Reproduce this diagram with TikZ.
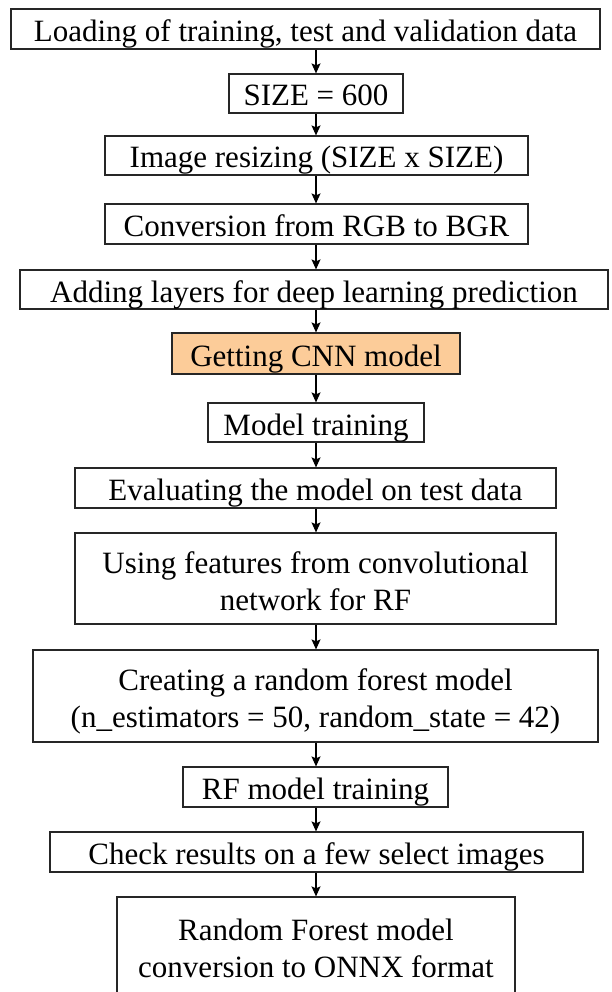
\documentclass[tikz,border=0pt]{standalone}
\usepackage{fontspec}
\setmainfont{Liberation Serif}
\usetikzlibrary{arrows.meta}
\definecolor{cnnfill}{RGB}{252,204,153}
\tikzset{
  stepbox/.style={draw=black!85, line width=1.2pt, inner sep=0pt,
    font=\fontsize{31}{37}\selectfont},
  flow/.style={-{Stealth[length=10pt,width=9pt,inset=2pt]}, line width=1.1pt, black},
}
% text of a box, set with its baseline at a fixed height in the box
\newcommand\oneline[1]{\raisebox{-12.5pt}[0pt][0pt]{#1}}
\newcommand\twolines[2]{\raisebox{5.5pt}[0pt][0pt]{%
  \begin{tabular}[t]{@{}c@{}}#1\\#2\end{tabular}}}
\begin{document}
\begin{tikzpicture}[x=1pt, y=-1pt]
\useasboundingbox (0,0) rectangle (612,992);
\clip (0,0) rectangle (612,992);
\coordinate (axis) at (316,0);

\node[stepbox, minimum width=589pt, minimum height=40pt] (b1) at (305.5,29)
  {\oneline{Loading of training, test and validation data}};
\node[stepbox, minimum width=174pt, minimum height=39pt] (b2) at (316,93.5)
  {\oneline{SIZE = 600}};
\node[stepbox, minimum width=423pt, minimum height=39pt] (b3) at (316.5,155.5)
  {\oneline{Image resizing (SIZE x SIZE)}};
\node[stepbox, minimum width=423pt, minimum height=40pt] (b4) at (316.5,224)
  {\oneline{Conversion from RGB to BGR}};
\node[stepbox, minimum width=588pt, minimum height=39pt] (b5) at (314,289.5)
  {\oneline{Adding layers for deep learning prediction}};
\node[stepbox, fill=cnnfill, minimum width=288pt, minimum height=41pt] (b6) at (316,353.5)
  {\oneline{Getting CNN model}};
\node[stepbox, minimum width=216pt, minimum height=39pt] (b7) at (316,422.5)
  {\oneline{Model training}};
\node[stepbox, minimum width=481pt, minimum height=40pt] (b8) at (315.5,488)
  {\oneline{Evaluating the model on test data}};
\node[stepbox, minimum width=481pt, minimum height=91pt] (b9) at (315.5,578.5)
  {\twolines{Using features from convolutional}{network for RF}};
\node[stepbox, minimum width=565pt, minimum height=92pt] (b10) at (315.5,696)
  {\twolines{Creating a random forest model}{(n\_estimators = 50, random\_state = 42)}};
\node[stepbox, minimum width=265pt, minimum height=40pt] (b11) at (315.5,787)
  {\oneline{RF model training}};
\node[stepbox, minimum width=533pt, minimum height=40pt] (b12) at (316.5,852)
  {\oneline{Check results on a few select images}};
\node[stepbox, minimum width=398pt, minimum height=97pt] (b13) at (316,945.5)
  {\twolines{Random Forest model}{conversion to ONNX format}};

\foreach \a/\b in {b1/b2,b2/b3,b3/b4,b4/b5,b5/b6,b6/b7,b7/b8,b8/b9,b9/b10,b10/b11,b11/b12,b12/b13}
  \draw[flow] (\a.south -| axis) -- (\b.north -| axis);
\end{tikzpicture}
\end{document}
